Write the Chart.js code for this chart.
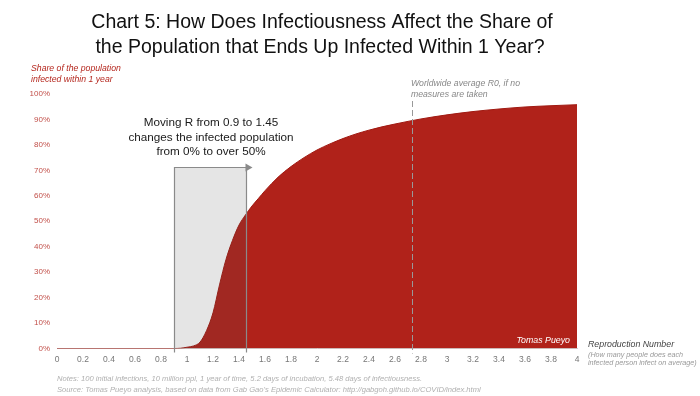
<!DOCTYPE html>
<html><head><meta charset="utf-8">
<script src="https://cdn.jsdelivr.net/npm/chart.js@4"></script>
<style>html,body{margin:0;padding:0;background:#fff}#wrap{width:700px;height:396px;position:relative}</style>
</head><body><div id="wrap"><canvas id="c" width="700" height="396"></canvas></div>
<script>
// ---- data ----
const rValues = [0, 0.2, 0.4, 0.6, 0.8, 0.9, 0.95, 1.0, 1.05, 1.1, 1.15, 1.2, 1.25, 1.3, 1.35, 1.4, 1.45, 1.5, 1.55, 1.6, 1.7, 1.8, 1.9, 2.0, 2.1, 2.2, 2.3, 2.4, 2.5, 2.6, 2.8, 3.0, 3.2, 3.4, 3.6, 3.8, 4.0];
const infectedShare = [0, 0, 0, 0, 0, 0, 0.1, 0.5, 1, 2.5, 7, 14, 25, 35, 42.5, 48.5, 52.5, 56, 59, 62, 67.3, 71.5, 75, 78, 80.4, 82.5, 84.3, 85.8, 87.1, 88.2, 90.2, 91.8, 93.1, 94.1, 94.9, 95.4, 95.8];
const boxRange = [0.9, 1.45];
const boxTop = 71.5;
const worldwideR0 = 2.73;
const titleLines = ["Chart 5: How Does Infectiousness Affect the Share of", "the Population that Ends Up Infected Within 1 Year?"];
const yTitleLines = ["Share of the population", "infected within 1 year"];
const boxNoteLines = ["Moving R from 0.9 to 1.45", "changes the infected population", "from 0% to over 50%"];
const r0NoteLines = ["Worldwide average R0, if no", "measures are taken"];
const xTitleLines = ["Reproduction Number", "(How many people does each", "infected person infect on average)"];
const noteLines = ["Notes: 100 initial infections, 10 million ppl, 1 year of time, 5.2 days of incubation, 5.48 days of infectiousness.",
  "Source: Tomas Pueyo analysis, based on data from Gab Gao's Epidemic Calculator: http://gabgoh.github.io/COVID/index.html"];
const credit = "Tomas Pueyo";

const FONT = "'Liberation Sans', Arial, sans-serif";
Chart.defaults.font.family = FONT;

const overlay = {
  id: 'overlay',
  afterDatasetsDraw(chart) {
    const {ctx, scales: {x, y}} = chart;
    const x0 = Math.round(x.getPixelForValue(boxRange[0])) + 0.5;
    const x1 = Math.round(x.getPixelForValue(boxRange[1])) + 0.5;
    const yT = Math.round(y.getPixelForValue(boxTop)) + 0.5;
    const yB = y.getPixelForValue(0);
    ctx.save();
    ctx.fillStyle = 'rgba(80,80,80,0.15)';
    ctx.fillRect(x0, yT, x1 - x0, yB - yT);
    ctx.strokeStyle = '#8a8a8a';
    ctx.lineWidth = 1.2;
    ctx.beginPath();
    ctx.moveTo(x0, yB + 4); ctx.lineTo(x0, yT); ctx.lineTo(x1, yT);
    ctx.moveTo(x1, yT); ctx.lineTo(x1, yB + 4);
    ctx.stroke();
    ctx.fillStyle = '#8a8a8a';
    ctx.beginPath();
    ctx.moveTo(x1 + 6, yT); ctx.lineTo(x1 - 1, yT - 4); ctx.lineTo(x1 - 1, yT + 4); ctx.closePath(); ctx.fill();
    // dashed R0 line
    const xr = Math.round(x.getPixelForValue(worldwideR0)) + 0.5;
    ctx.strokeStyle = '#999';
    ctx.lineWidth = 1;
    ctx.setLineDash([6, 3]);
    ctx.beginPath(); ctx.moveTo(xr, 101); ctx.lineTo(xr, yB + 5); ctx.stroke();
    ctx.setLineDash([]);
    ctx.restore();
  },
  afterDraw(chart) {
    const {ctx, scales: {x}} = chart;
    ctx.save();
    // title
    ctx.fillStyle = '#111';
    ctx.font = `19.5px ${FONT}`;
    ctx.textAlign = 'center';
    ctx.textBaseline = 'alphabetic';
    ctx.fillText(titleLines[0], 322, 28);
    ctx.fillText(titleLines[1], 320, 53);
    // y title
    ctx.textAlign = 'left';
    ctx.textBaseline = 'middle';
    ctx.fillStyle = '#b5281f';
    ctx.font = `italic 8.7px ${FONT}`;
    ctx.fillText(yTitleLines[0], 31, 69);
    ctx.fillText(yTitleLines[1], 31, 79.5);
    // box note
    ctx.textAlign = 'center';
    ctx.fillStyle = '#1a1a1a';
    ctx.font = `11.7px ${FONT}`;
    ctx.fillText(boxNoteLines[0], 211, 123);
    ctx.fillText(boxNoteLines[1], 211, 138);
    ctx.fillText(boxNoteLines[2], 211, 152);
    // R0 note
    ctx.textAlign = 'left';
    ctx.fillStyle = '#888';
    ctx.font = `italic 8.7px ${FONT}`;
    const xr = x.getPixelForValue(worldwideR0);
    ctx.fillText(r0NoteLines[0], xr - 1, 84);
    ctx.fillText(r0NoteLines[1], xr - 1, 94.5);
    // credit
    ctx.textAlign = 'right';
    ctx.fillStyle = '#fff';
    ctx.font = `italic 8.8px ${FONT}`;
    ctx.fillText(credit, 570, 341);
    // x title
    ctx.textAlign = 'left';
    ctx.fillStyle = '#444';
    ctx.font = `italic 8.8px ${FONT}`;
    ctx.fillText(xTitleLines[0], 588, 345);
    ctx.fillStyle = '#999';
    ctx.font = `italic 7.2px ${FONT}`;
    ctx.fillText(xTitleLines[1], 588, 355);
    ctx.fillText(xTitleLines[2], 588, 362.5);
    // notes
    ctx.fillStyle = '#b0b0b0';
    ctx.font = `italic 7.6px ${FONT}`;
    ctx.fillText(noteLines[0], 57, 379);
    ctx.fillText(noteLines[1], 57, 389.5);
    ctx.restore();
  }
};

new Chart(document.getElementById('c'), {
  type: 'line',
  data: {
    datasets: [{
      data: rValues.map((r, i) => ({x: r, y: infectedShare[i]})),
      fill: 'origin',
      backgroundColor: '#b0221a',
      borderColor: '#a01a12',
      borderWidth: 1,
      pointRadius: 0,
      cubicInterpolationMode: 'monotone'
    }]
  },
  options: {
    responsive: false,
    animation: false,
    events: [],
    layout: {padding: {top: 94, right: 123, bottom: 0, left: 0}},
    plugins: {legend: {display: false}, tooltip: {enabled: false}, title: {display: false}},
    scales: {
      x: {
        type: 'linear', min: 0, max: 4,
        afterFit: s => { s.height = 47.5; },
        grid: {display: false, drawTicks: false},
        border: {display: true, color: '#d0d0d0', width: 1},
        ticks: {
          stepSize: 0.2, padding: 6, color: '#777', font: {size: 8.5},
          callback: v => String(Math.round(v * 10) / 10),
          maxRotation: 0, autoSkip: false
        }
      },
      y: {
        min: 0, max: 100,
        afterFit: s => { s.width = 57; },
        grid: {display: false, drawTicks: false},
        border: {display: false},
        ticks: {stepSize: 10, padding: 7, color: '#c2504a', font: {size: 8}, callback: v => v + '%'}
      }
    }
  },
  plugins: [overlay]
});
</script>
</body></html>
